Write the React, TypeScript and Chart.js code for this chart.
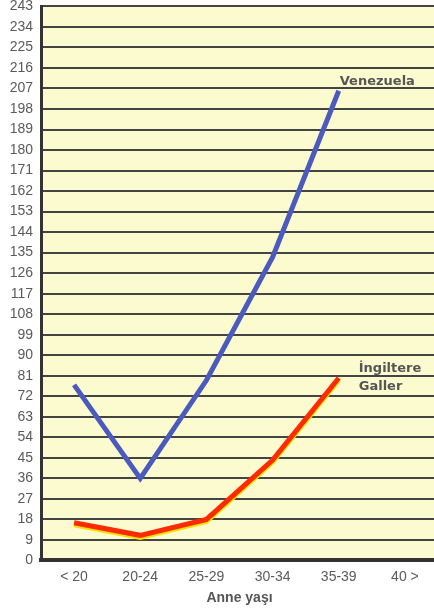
import React, { useEffect, useRef } from "react";
import { Chart, registerables } from "chart.js";

Chart.register(...registerables);

const categories = ["< 20", "20-24", "25-29", "30-34", "35-39", "40 >"];
const venezuela = [77, 36, 79, 133, 206, null];
const ingiltere = [16.5, 11, 18, 44, 80, null];
const yTicks = [0, 9, 18, 27, 36, 45, 54, 63, 72, 81, 90, 99, 108, 117, 126, 135, 144, 153, 162, 171, 180, 189, 198, 207, 216, 225, 234, 243];

const FONT = "'Liberation Sans', 'DejaVu Sans', sans-serif";
const LABEL_FONT = "'DejaVu Sans', sans-serif";

const bgPlugin = {
  id: "plotBg",
  beforeDraw(chart: any) {
    const { ctx, chartArea } = chart;
    ctx.save();
    ctx.fillStyle = "#fcfbd0";
    ctx.fillRect(chartArea.left, chartArea.top, chartArea.right - chartArea.left, chartArea.bottom - chartArea.top);
    ctx.restore();
  },
  beforeDatasetDraw(chart: any, args: any) {
    if (args.index === 1) {
      const ctx = chart.ctx;
      ctx.save();
      ctx.shadowColor = "#f2e200";
      ctx.shadowOffsetY = 2;
      ctx.shadowOffsetX = 0;
      ctx.shadowBlur = 0;
    }
  },
  afterDatasetDraw(chart: any, args: any) {
    if (args.index === 1) {
      chart.ctx.restore();
    }
  },
  afterDraw(chart: any) {
    const { ctx, scales } = chart;
    const x = scales.x;
    const y = scales.y;
    ctx.save();
    ctx.fillStyle = "#555555";
    ctx.font = `bold 13px ${LABEL_FONT}`;
    ctx.textAlign = "left";
    ctx.textBaseline = "middle";
    ctx.fillText("Venezuela", x.getPixelForValue(4) + 1, y.getPixelForValue(210));
    ctx.fillText("İngiltere", x.getPixelForValue(4) + 20, y.getPixelForValue(84.3));
    ctx.fillText("Galler", x.getPixelForValue(4) + 20, y.getPixelForValue(76.4));
    ctx.restore();
  },
};

export default function App() {
  const ref = useRef<HTMLCanvasElement | null>(null);
  useEffect(() => {
    if (!ref.current) return;
    const chart = new Chart(ref.current, {
      type: "line",
      data: {
        labels: categories,
        datasets: [
          {
            label: "Venezuela",
            data: venezuela,
            borderColor: "#4b5bbd",
            borderWidth: 5,
            pointRadius: 0,
            tension: 0,
            spanGaps: false,
          },
          {
            label: "İngiltere Galler",
            data: ingiltere,
            borderColor: "#ff2a00",
            borderWidth: 5,
            pointRadius: 0,
            tension: 0,
            spanGaps: false,
          },
        ],
      },
      options: {
        animation: false,
        responsive: false,
        maintainAspectRatio: false,
        layout: { padding: { top: 0, right: 0, bottom: 6, left: 0 } },
        plugins: { legend: { display: false }, tooltip: { enabled: false } },
        scales: {
          x: {
            offset: true,
            grid: { display: false, drawTicks: false },
            border: { display: true, color: "#333333", width: 4 },
            ticks: { color: "#5a5a5a", font: { family: FONT, size: 14 }, padding: 8 },
            title: {
              display: true,
              text: "Anne yaşı",
              color: "#555555",
              font: { family: FONT, size: 14, weight: "bold" },
              padding: { top: -3, bottom: 0 },
            },
          },
          y: {
            min: 0,
            max: 243,
            afterBuildTicks(axis: any) {
              axis.ticks = yTicks.map((v) => ({ value: v }));
            },
            afterFit(axis: any) {
              axis.width = 41;
            },
            grid: { color: "#444444", lineWidth: 2, drawTicks: false },
            border: { display: true, color: "#333333", width: 3 },
            ticks: { color: "#5a5a5a", font: { family: FONT, size: 14 }, padding: 8 },
          },
        },
      },
      plugins: [bgPlugin],
    } as any);
    return () => chart.destroy();
  }, []);
  return (
    <div style={{ position: "absolute", left: 0, top: 0, width: 434, height: 612, overflow: "hidden", background: "#ffffff" }}>
      <canvas ref={ref} width={438} height={623} style={{ display: "block", position: "absolute", left: 0, top: -10 }} />
    </div>
  );
}
